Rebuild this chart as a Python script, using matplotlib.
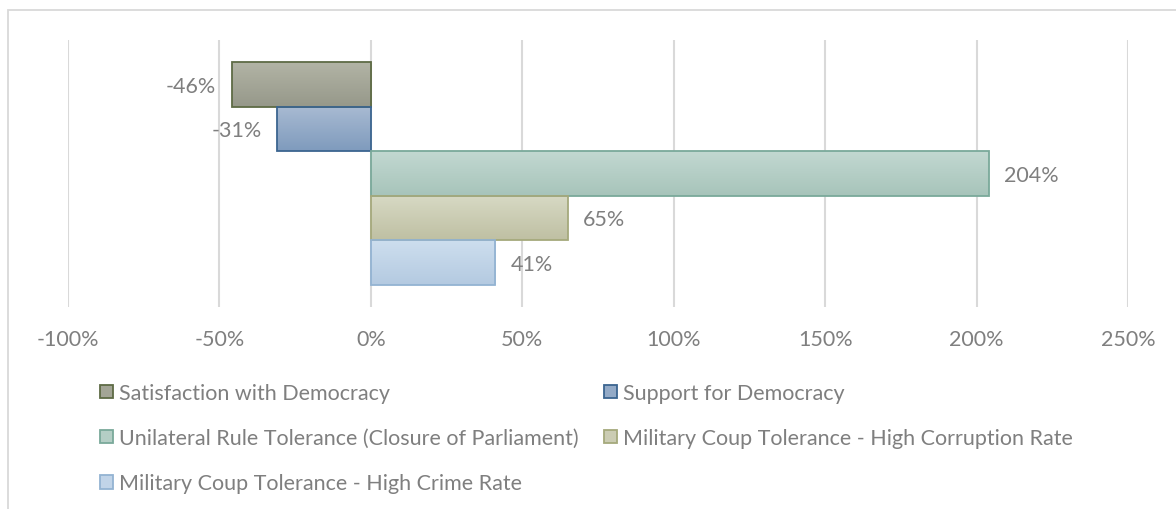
import matplotlib
matplotlib.use("Agg")
import matplotlib.pyplot as plt
import numpy as np
from matplotlib.patches import Patch, Rectangle
from matplotlib.colors import LinearSegmentedColormap

series = [
    "Satisfaction with Democracy",
    "Support for Democracy",
    "Unilateral Rule Tolerance (Closure of Parliament)",
    "Military Coup Tolerance - High Corruption Rate",
    "Military Coup Tolerance - High Crime Rate",
]
values = [-46, -31, 204, 65, 41]
tick_values = [-100, -50, 0, 50, 100, 150, 200, 250]
tick_labels = ["-100%", "-50%", "0%", "50%", "100%", "150%", "200%", "250%"]

top_colors = ["#b2b4a5", "#a8bad2", "#c2d8d1", "#d7d9c4", "#cddeee"]
bot_colors = ["#96988a", "#7f9bbd", "#a7c4ba", "#bfc0a3", "#b4cae1"]
edge_colors = ["#5e6b45", "#3b6590", "#7aa99a", "#a5a97c", "#93b3d2"]
mid_colors = ["#a3a596", "#93aac7", "#b4cec5", "#cbccb3", "#c1d4e8"]

plt.rcParams['font.family'] = ['Lato', 'DejaVu Sans']
TXT = "#7f7f7f"
FS = 15.5

W, H = 1176, 510
fig = plt.figure(figsize=(W / 100, H / 100), dpi=100)
fig.patches.append(Rectangle((8 / W, -0.1), 1.2, (510 - 11) / H + 0.1,
                             transform=fig.transFigure, fill=False,
                             edgecolor="#d9d9d9", linewidth=1.3))

ax = fig.add_axes([68 / W, 1 - 308 / H, (1128 - 68) / W, (308 - 41) / H])

ax.set_xticks(tick_values)
ax.set_xticklabels(tick_labels)
ax.tick_params(axis='x', length=0, pad=16, labelsize=FS, labelcolor=TXT)
ax.set_yticks([])
for s in ax.spines.values():
    s.set_visible(False)
ax.grid(axis='x', color="#d9d9d9", linewidth=1.5)
ax.set_axisbelow(True)

ypos = np.arange(len(values))
bars = ax.barh(ypos, values, height=1.0, color="none",
               edgecolor=edge_colors, linewidth=1.3, zorder=3)

grad = np.linspace(0, 1, 64).reshape(-1, 1)
for b, tc, bc in zip(bars, top_colors, bot_colors):
    cmap = LinearSegmentedColormap.from_list("g", [tc, bc])
    x0 = b.get_x()
    w = b.get_width()
    y0 = b.get_y()
    h = b.get_height()
    im = ax.imshow(grad, cmap=cmap, aspect='auto',
                   extent=[min(x0, x0 + w), max(x0, x0 + w), y0 + h, y0],
                   zorder=2, interpolation='bilinear')
    im.set_clip_path(b)

ax.set_xlim(-100, 250)
ax.set_ylim(5.0, -1.0)

for y, v in zip(ypos, values):
    if v < 0:
        ax.annotate(f"{v}%", (v, y), xytext=(-11, -1), textcoords='offset points',
                    ha='right', va='center', fontsize=FS, color=TXT, zorder=5)
    else:
        ax.annotate(f"{v}%", (v, y), xytext=(11, -1), textcoords='offset points',
                    ha='left', va='center', fontsize=FS, color=TXT, zorder=5)

handles = [Patch(facecolor=mc, edgecolor=ec, linewidth=1.3)
           for mc, ec in zip(mid_colors, edge_colors)]
order = [0, 2, 4, 1, 3]
leg = fig.legend([handles[i] for i in order], [series[i] for i in order],
                 ncol=2, loc='upper left', bbox_to_anchor=(100 / W, 1 - 384 / H),
                 frameon=False, fontsize=FS, labelcolor=TXT,
                 handlelength=0.6, handleheight=0.6, handletextpad=0.3,
                 columnspacing=1.15, labelspacing=1.17, borderaxespad=0, borderpad=0)

fig.savefig("out.png", dpi=100)
